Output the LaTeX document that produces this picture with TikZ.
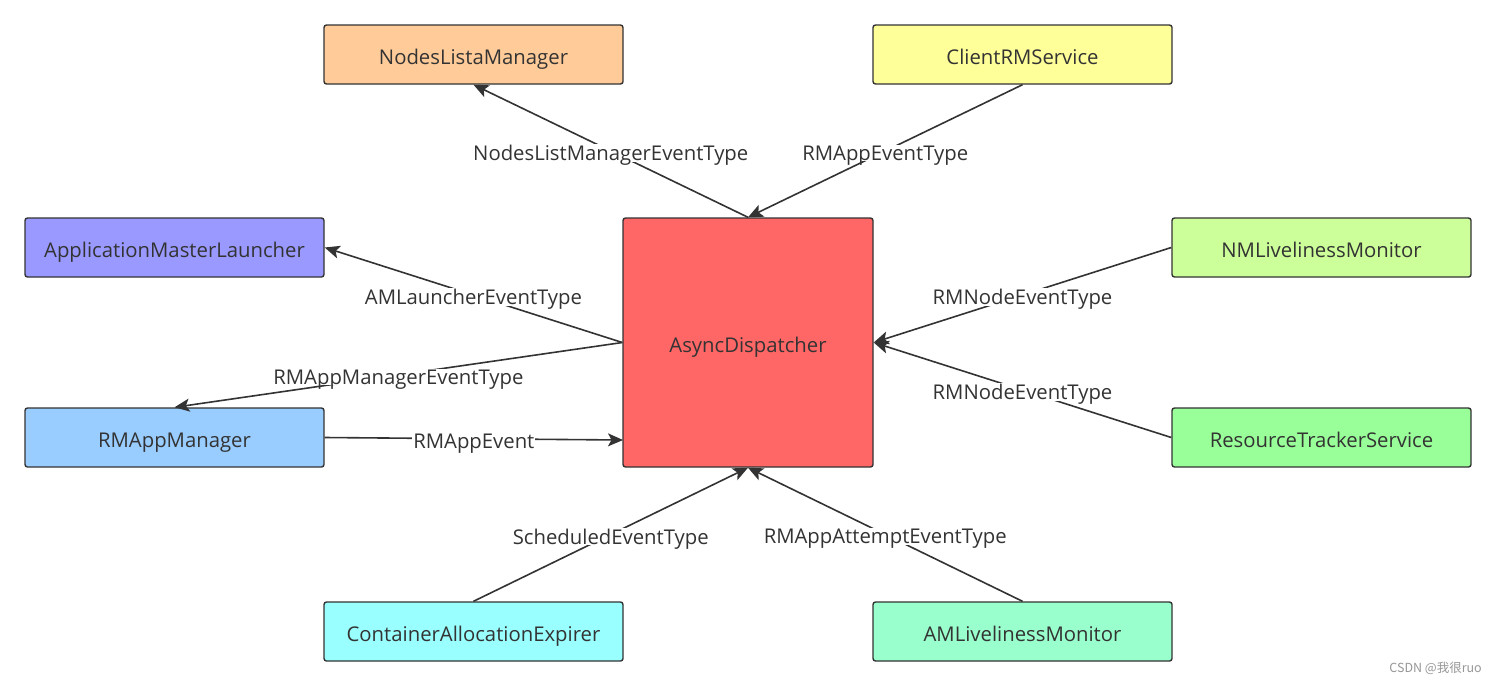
\documentclass[tikz,border=0pt]{standalone}
\usepackage{fontspec}
\setmainfont{Open Sans}
\newfontfamily\cjk{Noto Sans CJK SC}
\usetikzlibrary{arrows.meta}
\definecolor{edgec}{HTML}{333333}
\definecolor{txtc}{HTML}{333333}
\begin{document}
\begin{tikzpicture}[x=1pt,y=-1pt,
  box/.style={draw=edgec,line width=1.4pt,rounded corners=2.5pt,minimum width=299pt,minimum height=59pt,inner sep=0pt,text=txtc,text height=19pt,text depth=0pt,font=\fontsize{20.3}{22}\selectfont},
  conn/.style={draw=edgec,line width=1.6pt,-{Stealth[length=15pt,width=13pt,inset=3.5pt]}},
  lbl/.style={fill=white,inner sep=1pt,text=txtc,text depth=0pt,yshift=-2pt,font=\fontsize{20.3}{22}\selectfont}]
\useasboundingbox (0,0) rectangle (1496,686);
\node[box,fill={rgb,255:red,255;green,204;blue,153}] (nlm) at (473.5,54.5) {NodesListaManager};
\node[box,fill={rgb,255:red,255;green,255;blue,153}] (crm) at (1022.5,54.5) {ClientRMService};
\node[box,fill={rgb,255:red,153;green,153;blue,255}] (aml) at (174.5,247.5) {ApplicationMasterLauncher};
\node[box,fill={rgb,255:red,204;green,255;blue,153}] (nmm) at (1321.5,247.5) {NMLivelinessMonitor};
\node[box,fill={rgb,255:red,153;green,204;blue,255}] (ram) at (174.5,437.5) {RMAppManager};
\node[box,fill={rgb,255:red,153;green,255;blue,153}] (rts) at (1321.5,437.5) {ResourceTrackerService};
\node[box,fill={rgb,255:red,153;green,255;blue,255}] (cae) at (473.5,631.5) {ContainerAllocationExpirer};
\node[box,fill={rgb,255:red,153;green,255;blue,204}] (alm) at (1022.5,631.5) {AMLivelinessMonitor};
\node[box,fill={rgb,255:red,255;green,102;blue,102},minimum width=250pt,minimum height=249pt] (ad) at (748,342.5) {AsyncDispatcher};
% connectors
\draw[conn] (ad.north) -- node[lbl,pos=0.5]{NodesListManagerEventType} (nlm.south);
\draw[conn] (crm.south) -- node[lbl,pos=0.5]{RMAppEventType} (ad.north);
\draw[conn] (ad.west) -- node[lbl,pos=0.5]{AMLauncherEventType} (aml.east);
\draw[conn] (ad.west) -- node[lbl,pos=0.5]{RMAppManagerEventType} (ram.north);
\coordinate (adin) at (623,440);
\draw[conn] (ram.east) -- node[lbl,pos=0.5]{RMAppEvent} (adin);
\draw[conn] (nmm.west) -- node[lbl,pos=0.5]{RMNodeEventType} (ad.east);
\draw[conn] (rts.west) -- node[lbl,pos=0.5]{RMNodeEventType} (ad.east);
\draw[conn] (cae.north) -- node[lbl,pos=0.5]{ScheduledEventType} (ad.south);
\draw[conn] (alm.north) -- node[lbl,pos=0.5]{RMAppAttemptEventType} (ad.south);
\node[text={rgb,255:red,150;green,150;blue,150},font=\cjk\fontsize{12.5}{14}\selectfont,anchor=east,inner sep=0pt] (wm) at (1482,668) {CSDN @我很ruo};
\end{tikzpicture}
\end{document}
